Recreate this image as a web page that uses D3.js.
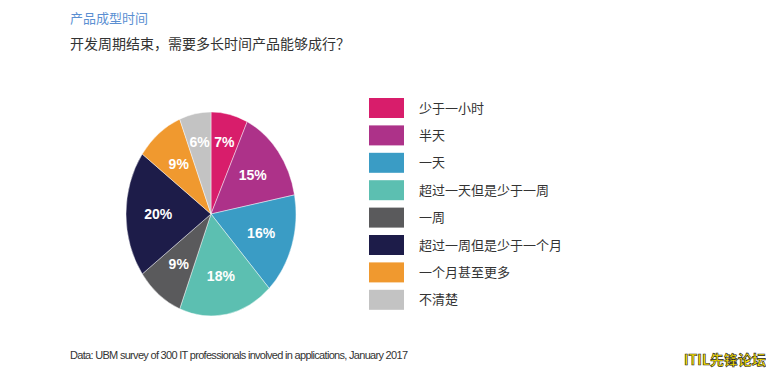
<!DOCTYPE html>
<html>
<head>
<meta charset="utf-8">
<script src="https://cdn.jsdelivr.net/npm/d3@7"></script>
<style>
  body { margin: 0; background: #fff; }
  svg { display: block; }
</style>
</head>
<body>
<svg id="chart" width="766" height="371"></svg>
<script>
// data
var categories = ["少于一小时", "半天", "一天", "超过一天但是少于一周", "一周", "超过一周但是少于一个月", "一个月甚至更多", "不清楚"];
var values = [7, 15, 16, 18, 9, 20, 9, 6];
var colors = ["#d81d6b", "#ad3289", "#3a9cc5", "#5cbfb1", "#5a5a5c", "#1d1c49", "#f0992f", "#c3c3c3"];

var cx = 211, cy = 214;
var rx = 85, ry = 102;
var k = ry / rx;

var svg = d3.select('#chart');

// titles
svg.append('text')
  .attr('x', 70).attr('y', 23)
  .attr('font-family', '"Noto Sans CJK SC", sans-serif')
  .attr('font-size', 13)
  .attr('fill', '#5b8fd2')
  .text('产品成型时间');

svg.append('text')
  .attr('x', 70).attr('y', 49)
  .attr('font-family', '"Noto Sans CJK SC", sans-serif')
  .attr('font-size', 14)
  .attr('fill', '#333')
  .text('开发周期结束，需要多长时间产品能够成行？');

// pie (drawn as a circle, stretched vertically into an ellipse)
var pie = d3.pie().sort(null).value(function(d){ return d; });
var arcs = pie(values);
var arc = d3.arc().innerRadius(0).outerRadius(rx);
// thin slices get their label pushed further out
function labelPos(d) {
  var r = rx * (d.data < 8 ? 0.72 : 0.62);
  var c = d3.arc().innerRadius(r).outerRadius(r).centroid(d);
  return [c[0], c[1] * k];
}

var g = svg.append('g')
  .attr('transform', 'translate(' + [cx, cy] + ') scale(1,' + k + ')');

g.selectAll('path')
  .data(arcs)
  .enter().append('path')
  .attr('d', arc)
  .attr('fill', function(d, i){ return colors[i]; })
  .attr('stroke', '#fff')
  .attr('stroke-width', 0.4);

svg.append('g')
  .attr('transform', 'translate(' + [cx, cy] + ')')
  .selectAll('text')
  .data(arcs)
  .enter().append('text')
  .attr('x', function(d){ return labelPos(d)[0]; })
  .attr('y', function(d){ return labelPos(d)[1]; })
  .attr('dy', '0.35em')
  .attr('text-anchor', 'middle')
  .attr('font-family', '"Liberation Sans", Arial, sans-serif')
  .attr('font-weight', 'bold')
  .attr('font-size', 14)
  .attr('fill', '#fff')
  .text(function(d){ return d.data + '%'; });

// legend
var legend = svg.append('g').attr('transform', 'translate(369,98)');
var item = legend.selectAll('g')
  .data(categories)
  .enter().append('g')
  .attr('transform', function(d, i){ return 'translate(0,' + (i * 27.4) + ')'; });

item.append('rect')
  .attr('width', 35).attr('height', 20)
  .attr('fill', function(d, i){ return colors[i]; });

item.append('text')
  .attr('x', 50).attr('y', 10)
  .attr('dy', '0.35em')
  .attr('font-family', '"Noto Sans CJK SC", sans-serif')
  .attr('font-size', 13)
  .attr('fill', '#333')
  .text(function(d){ return d; });

// source note
svg.append('text')
  .attr('x', 70).attr('y', 359)
  .attr('font-family', '"Liberation Sans Narrow", "Liberation Sans", Arial, sans-serif')
  .attr('font-size', 11)
  .attr('fill', '#333')
  .attr('textLength', 338)
  .text('Data: UBM survey of 300 IT professionals involved in applications, January 2017');

// watermark
svg.append('text')
  .attr('x', 766).attr('y', 365)
  .attr('text-anchor', 'end')
  .attr('font-family', '"Noto Sans CJK SC", sans-serif')
  .attr('font-size', 14)
  .attr('font-weight', 'bold')
  .attr('fill', '#ffe600')
  .attr('stroke', '#222')
  .attr('stroke-width', 0.6)
  .text('ITIL先锋论坛');
</script>
</body>
</html>
